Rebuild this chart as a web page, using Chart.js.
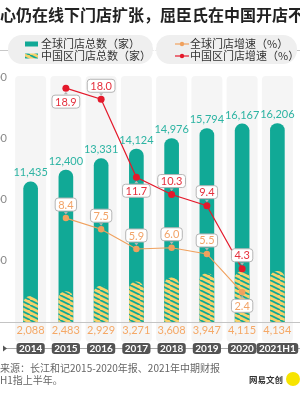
<!DOCTYPE html>
<html lang="zh">
<head>
<meta charset="UTF-8">
<title>屈臣氏门店</title>
<script src="https://cdn.jsdelivr.net/npm/chart.js"></script>
<style>
  html, body { margin: 0; padding: 0; background: #fff; overflow: hidden; }
  #wrap { width: 300px; height: 400px; }
</style>
</head>
<body>
<div id="wrap"><canvas id="storeChart" width="300" height="400"></canvas></div>
<script>
// data
const years = ['2014', '2015', '2016', '2017', '2018', '2019', '2020', '2021H1'];
const globalStores = [11435, 12400, 13331, 14124, 14976, 15794, 16167, 16206];
const chinaStores = [2088, 2483, 2929, 3271, 3608, 3947, 4115, 4134];
const globalGrowth = [null, 8.4, 7.5, 5.9, 6.0, 5.5, 2.4, null];
const chinaGrowth = [null, 18.9, 18.0, 11.7, 10.3, 9.4, 4.3, null];
const storeTicks = [5000, 10000, 15000, 20000];

const CJK = '"Noto Sans CJK SC", "Noto Sans", sans-serif';
const NUM = 'Lato, "Noto Sans", sans-serif';
const TEAL = '#11a996';
const YELLOW = '#f6d26c';
const RED = '#e4192b';
const ORANGE = '#f0a15e';

// striped fill for the China bars
function stripes() {
    const c = document.createElement('canvas');
    c.width = 10; c.height = 5;
    const g = c.getContext('2d');
    g.fillStyle = YELLOW;
    g.fillRect(0, 0, 10, 5);
    g.strokeStyle = TEAL;
    g.lineWidth = 1.8;
    for (let k = -1; k <= 1; k++) {
        g.beginPath();
        g.moveTo(k * 10, 0);
        g.lineTo(k * 10 + 10, 5);
        g.stroke();
    }
    return g.createPattern(c, 'repeat');
}

function rrect(ctx, x, y, w, h, r) {
    ctx.beginPath();
    ctx.moveTo(x + r, y);
    ctx.lineTo(x + w - r, y);
    ctx.arcTo(x + w, y, x + w, y + r, r);
    ctx.lineTo(x + w, y + h - r);
    ctx.arcTo(x + w, y + h, x + w - r, y + h, r);
    ctx.lineTo(x + r, y + h);
    ctx.arcTo(x, y + h, x, y + h - r, r);
    ctx.lineTo(x, y + r);
    ctx.arcTo(x, y, x + r, y, r);
    ctx.closePath();
}

// title, legend, panels, axis decoration
const decor = {
    id: 'decor',
    beforeDraw(chart) {
        const ctx = chart.ctx;
        ctx.save();
        // title (cropped in the reference)
        ctx.fillStyle = '#222';
        ctx.font = 'bold 16px ' + CJK;
        ctx.textAlign = 'left';
        ctx.textBaseline = 'middle';
        ctx.fillText('心仍在线下门店扩张，屈臣氏在中国开店不', 0, 15);

        // legend
        ctx.strokeStyle = '#c8c8c8';
        ctx.lineWidth = 1;
        ctx.beginPath();
        ctx.moveTo(0, 50.5); ctx.lineTo(300, 50.5);
        ctx.stroke();
        ctx.fillStyle = '#efefef';
        rrect(ctx, 8, 35, 145, 29, 14); ctx.fill();
        rrect(ctx, 156, 35, 141, 29, 14); ctx.fill();
        ctx.fillStyle = '#fff';
        [40, 46, 52, 58].forEach(y => {
            ctx.beginPath(); ctx.arc(154.5, y, 2, 0, Math.PI * 2); ctx.fill();
        });

        ctx.fillStyle = TEAL;
        ctx.fillRect(25, 41.5, 13, 5);
        ctx.fillStyle = chart.data.datasets[1].backgroundColor;
        ctx.fillRect(25, 53.5, 13, 5);

        ctx.lineWidth = 1.2;
        [[ORANGE, 44], [RED, 56]].forEach(([col, y]) => {
            ctx.strokeStyle = col; ctx.fillStyle = col;
            ctx.beginPath(); ctx.moveTo(175, y); ctx.lineTo(189, y); ctx.stroke();
            ctx.beginPath(); ctx.arc(182, y, 2.2, 0, Math.PI * 2); ctx.fill();
        });

        ctx.fillStyle = '#333';
        ctx.font = '11px ' + CJK;
        ctx.fillText('全球门店总数（家）', 41, 44);
        ctx.fillText('中国区门店总数（家）', 41, 56);
        ctx.fillText('全球门店增速（%）', 190, 44);
        ctx.fillText('中国区门店增速（%）', 190, 56);

        // left tick labels (cut by the edge)
        const y = chart.scales.y;
        ctx.fillStyle = '#8a8a8a';
        ctx.font = '11px ' + NUM;
        ctx.textAlign = 'right';
        storeTicks.forEach(v => ctx.fillText(String(v), 7, y.getPixelForValue(v)));

        // source and watermark
        ctx.textAlign = 'left';
        ctx.fillStyle = '#666';
        ctx.font = '10px ' + CJK;
        ctx.fillText('来源：长江和记2015-2020年报、2021年中期财报', 0, 368);
        ctx.fillText('H1指上半年。', 0, 380);
        ctx.fillStyle = '#333';
        ctx.font = 'bold 8.5px ' + CJK;
        ctx.fillText('网易文创', 249, 380);
        ctx.fillStyle = '#f7e400';
        ctx.beginPath(); ctx.arc(293, 379, 7, 0, Math.PI * 2); ctx.fill();
        ctx.restore();
    },
    beforeDatasetsDraw(chart) {
        const ctx = chart.ctx;
        const x = chart.scales.x;
        ctx.save();
        ctx.fillStyle = '#f5f5f5';
        years.forEach((_, i) => {
            const cx = x.getPixelForValue(i);
            rrect(ctx, cx - 15.5, 76, 31, 266, 4);
            ctx.fill();
        });
        // baseline
        ctx.strokeStyle = '#c4c4c4';
        ctx.lineWidth = 1;
        ctx.beginPath();
        ctx.moveTo(0, chart.chartArea.bottom + 0.5);
        ctx.lineTo(300, chart.chartArea.bottom + 0.5);
        ctx.stroke();
        ctx.restore();
    },
    afterDatasetsDraw(chart) {
        const ctx = chart.ctx;
        const x = chart.scales.x, y = chart.scales.y, y2 = chart.scales.y2;
        ctx.save();
        ctx.textAlign = 'center';
        ctx.textBaseline = 'middle';

        // bar value labels
        ctx.font = '11px ' + NUM;
        years.forEach((_, i) => {
            const cx = x.getPixelForValue(i);
            ctx.fillStyle = '#2db4a3';
            ctx.fillText(globalStores[i].toLocaleString('en-US'), cx, y.getPixelForValue(globalStores[i]) - 9);
            ctx.fillStyle = '#f5a866';
            ctx.fillText(chinaStores[i].toLocaleString('en-US'), cx, 330);
        });

        // growth labels in boxes
        const sides = chart.options.plugins.decor;
        [[chinaGrowth, '#e5303d', sides.china], [globalGrowth, '#f2a468', sides.global]].forEach(([vals, col, side]) => {
            vals.forEach((v, i) => {
                if (v === null) return;
                const cx = x.getPixelForValue(i);
                const py = y2.getPixelForValue(v);
                const dir = side[i];
                const by = py + dir * 13.5;
                const txt = v.toFixed(1);
                ctx.font = '11px ' + NUM;
                const w = ctx.measureText(txt).width + 6;
                ctx.fillStyle = '#fff';
                ctx.strokeStyle = '#b5b5b5';
                ctx.lineWidth = 1;
                rrect(ctx, cx - w / 2, by - 6.5, w, 13, 3);
                ctx.fill(); ctx.stroke();
                // little pointer toward the point
                const ty = dir < 0 ? by + 7.5 : by - 7.5;
                ctx.fillStyle = '#b5b5b5';
                ctx.beginPath();
                ctx.moveTo(cx - 2, ty);
                ctx.lineTo(cx + 2, ty);
                ctx.lineTo(cx, ty - dir * 2.5);
                ctx.closePath();
                ctx.fill();
                ctx.fillStyle = col;
                ctx.fillText(txt, cx, by + 0.5);
            });
        });

        // year tags
        ctx.strokeStyle = '#a8a8a8';
        ctx.lineWidth = 1;
        ctx.beginPath(); ctx.moveTo(3, 348.5); ctx.lineTo(300, 348.5); ctx.stroke();
        ctx.fillStyle = '#555';
        ctx.beginPath(); ctx.moveTo(3, 345.5); ctx.lineTo(7, 348.5); ctx.lineTo(3, 351.5); ctx.fill();
        ctx.font = 'bold 10px ' + NUM;
        years.forEach((yr, i) => {
            const cx = x.getPixelForValue(i);
            const w = ctx.measureText(yr).width + 5;
            ctx.fillStyle = '#545454';
            rrect(ctx, cx - w / 2, 343, w, 11, 3);
            ctx.fill();
            ctx.fillStyle = '#fff';
            ctx.fillText(yr, cx, 348.5);
        });
        ctx.restore();
    }
};

new Chart(document.getElementById('storeChart'), {
    data: {
        labels: years,
        datasets: [
            {
                type: 'bar', label: '全球门店总数（家）', data: globalStores,
                backgroundColor: TEAL, barThickness: 14, grouped: false, order: 3,
                borderRadius: { topLeft: 7, topRight: 7 }, borderSkipped: 'bottom'
            },
            {
                type: 'bar', label: '中国区门店总数（家）', data: chinaStores,
                backgroundColor: stripes(), barThickness: 14, grouped: false, order: 2,
                borderRadius: { topLeft: 7, topRight: 7 }, borderSkipped: 'bottom'
            },
            {
                type: 'line', label: '全球门店增速（%）', data: globalGrowth, yAxisID: 'y2',
                borderColor: ORANGE, backgroundColor: ORANGE, borderWidth: 1.2,
                pointRadius: 3.2, pointBorderWidth: 0, order: 1
            },
            {
                type: 'line', label: '中国区门店增速（%）', data: chinaGrowth, yAxisID: 'y2',
                borderColor: RED, backgroundColor: RED, borderWidth: 1.2,
                pointRadius: 3.5, pointBorderWidth: 0, order: 0
            }
        ]
    },
    options: {
        responsive: false,
        animation: false,
        devicePixelRatio: 1,
        layout: { padding: { left: 13, right: 5, top: 77, bottom: 78 } },
        scales: {
            x: { display: false },
            y: { display: false, min: 0, max: 20000 },
            y2: { display: false, min: 0, max: 19.8 }
        },
        plugins: {
            legend: { display: false },
            tooltip: { enabled: false },
            // -1 = label above the point, 1 = below
            decor: {
                china: [0, 1, -1, 1, -1, -1, -1, 0],
                global: [0, -1, -1, -1, -1, -1, 1, 0]
            }
        }
    },
    plugins: [decor]
});
</script>
</body>
</html>
